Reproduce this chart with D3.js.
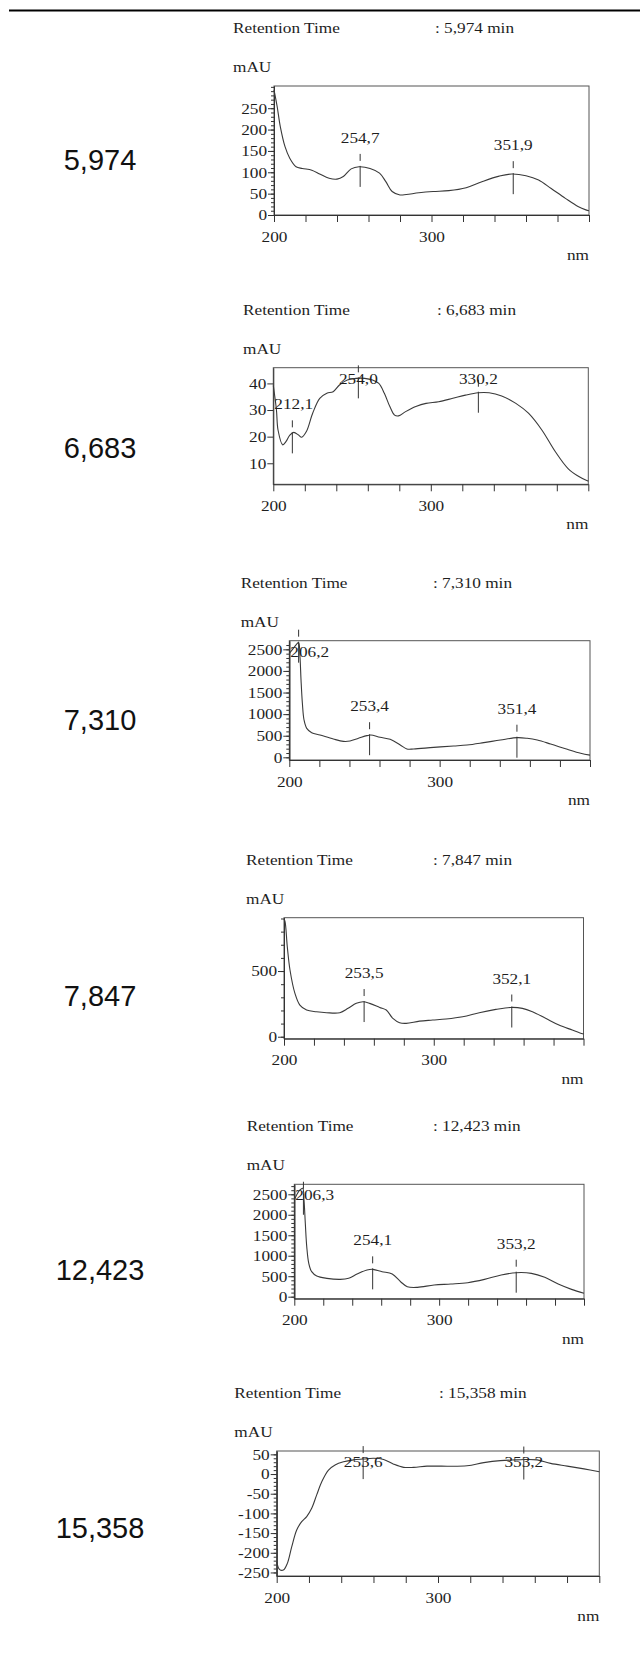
<!DOCTYPE html>
<meta charset="utf-8">

<!-- Load d3.js -->
<script src="https://d3js.org/d3.v7.min.js"></script>

<style>
  body { margin: 0; background: #fff; }
  svg text { font-family: "Liberation Serif", "Times New Roman", serif; font-size: 15px; fill: #1e1e1e; }
</style>

<div id="my_dataviz"></div>

<script>

// retention times (min), one spectrum each
var retention = ["5,974", "6,683", "7,310", "7,847", "12,423", "15,358"];

// wavelength (nm) / absorbance (mAU)
var nm5974  = [200, 202, 204, 207, 210, 214, 218, 224, 229, 235, 240, 244, 249, 254, 261, 267, 271, 275, 280, 284, 292, 301, 311, 322, 332, 343, 351, 360, 368, 376, 385, 393, 398, 400];
var mau5974 = [293, 254, 207, 160, 133, 113, 109, 105, 96, 86, 84, 90, 108, 113, 109, 98, 78, 55, 47, 48, 52, 55, 57, 64, 78, 91, 96, 92, 82, 62, 39, 20, 12, 10];

var nm6683  = [200, 202, 203, 206, 208, 210.5, 213, 216, 218, 221, 225, 229.5, 234, 238, 242, 247, 253, 258, 263, 267, 270.5, 274, 277, 279.5, 284, 290.5, 297, 305, 314, 322, 330, 337, 345, 354, 362, 370.5, 379, 387, 394, 399, 400];
var mau6683 = [39.2, 30, 22.5, 16.9, 18.1, 20.6, 21.6, 20.6, 19.8, 21.9, 28.8, 34.4, 36.3, 36.9, 39.4, 41.3, 41.9, 41.9, 41.3, 40, 36.3, 31.3, 28.1, 27.8, 29.4, 31.3, 32.5, 33.1, 34.4, 35.6, 36.5, 36.5, 35.3, 32.5, 28.8, 22.5, 14.4, 8.1, 5, 3.5, 3.3];

var nm7310  = [200, 202.7, 204.9, 206.2, 207.1, 207.8, 208.7, 209.8, 211.6, 214.9, 220.4, 229.3, 236, 240.4, 246, 251.6, 254.2, 260.4, 267.1, 273.8, 278.2, 282.7, 296, 309.3, 318.2, 329.3, 340.4, 351.6, 358.2, 364.9, 373.8, 384.9, 393.8, 400];
var mau7310 = [2407, 2523, 2623, 2654, 2330, 1790, 1250, 864, 671, 571, 517, 424, 370, 378, 440, 502, 517, 463, 417, 285, 193, 193, 231, 262, 285, 340, 401, 455, 440, 401, 309, 185, 93, 50];

var nm7847  = [200, 200.7, 202.2, 204, 207.3, 210.6, 215.1, 221.7, 228.4, 237.3, 242.8, 248.3, 252.8, 257.2, 263.9, 268.3, 272.7, 277.2, 281.6, 290.5, 299.3, 308.2, 319.3, 330.4, 341.5, 351.4, 359.2, 365.9, 374.7, 383.6, 392.5, 398.7, 400];
var mau7847 = [895, 876, 685, 508, 330, 241, 203, 190, 183, 183, 216, 254, 266, 254, 223, 203, 140, 107, 102, 119, 127, 135, 152, 183, 208, 223, 216, 190, 140, 89, 51, 25, 22];

var nm12423  = [200, 201.6, 203.9, 205.8, 206.7, 207.6, 208.6, 210, 212, 215.5, 222.5, 231.7, 237.5, 243.3, 250.2, 254.2, 260.6, 267.6, 273.4, 278, 285, 296.5, 308.1, 319.7, 331.3, 342.8, 353.2, 363.7, 372.9, 382.2, 391.4, 400];
var mau12423 = [2362, 2484, 2606, 2647, 2362, 1792, 1221, 814, 611, 505, 448, 423, 448, 554, 651, 668, 611, 554, 366, 244, 228, 285, 309, 342, 423, 529, 586, 570, 472, 309, 179, 85];

var nm15358  = [200, 201.7, 204.1, 206.6, 209.3, 212.4, 215.5, 218.6, 221.7, 224.8, 228, 232.1, 236.2, 241.4, 247.6, 253.8, 260, 266.3, 272.5, 278.7, 284.9, 293.2, 301.4, 318, 328.4, 338.7, 349.1, 354.2, 361.5, 369.8, 380.1, 390.5, 400];
var mau15358 = [-223, -242, -244, -227, -185, -142, -121, -108, -87, -53, -19, 10, 23, 31, 36, 38, 40, 37, 25, 17, 17, 20, 20, 21, 29, 34, 36, 37, 36, 27, 20, 13, 6];

// labelled maxima (nm)
var peaks5974  = [254.7, 351.9];
var peaks6683  = [212.1, 254.0, 330.2];
var peaks7310  = [206.2, 253.4, 351.4];
var peaks7847  = [253.5, 352.1];
var peaks12423 = [206.3, 254.1, 353.2];
var peaks15358 = [253.6, 353.2];

// mAU axis: extent and labelled ticks, minor tick step
var yRange5974  = [0, 302],     yTicks5974  = [0, 50, 100, 150, 200, 250],          yStep5974  = 10;
var yRange6683  = [2.1, 45.9],  yTicks6683  = [10, 20, 30, 40],                     yStep6683  = 0;
var yRange7310  = [-62, 2700],  yTicks7310  = [0, 500, 1000, 1500, 2000, 2500],     yStep7310  = 100;
var yRange7847  = [-15, 906],   yTicks7847  = [0, 500],                             yStep7847  = 100;
var yRange12423 = [-49, 2744],  yTicks12423 = [0, 500, 1000, 1500, 2000, 2500],     yStep12423 = 100;
var yRange15358 = [-259, 58.5], yTicks15358 = [-250, -200, -150, -100, -50, 0, 50], yStep15358 = 10;

// nm axis
var xTicks  = [200, 220, 240, 260, 280, 300, 320, 340, 360, 380, 400];
var xLabels = [200, 300];

var panels = [
  {nm: nm5974,  mau: mau5974,  peaks: peaks5974,  yRange: yRange5974,  yTicks: yTicks5974,  yStep: yStep5974},
  {nm: nm6683,  mau: mau6683,  peaks: peaks6683,  yRange: yRange6683,  yTicks: yTicks6683,  yStep: yStep6683},
  {nm: nm7310,  mau: mau7310,  peaks: peaks7310,  yRange: yRange7310,  yTicks: yTicks7310,  yStep: yStep7310},
  {nm: nm7847,  mau: mau7847,  peaks: peaks7847,  yRange: yRange7847,  yTicks: yTicks7847,  yStep: yStep7847},
  {nm: nm12423, mau: mau12423, peaks: peaks12423, yRange: yRange12423, yTicks: yTicks12423, yStep: yStep12423},
  {nm: nm15358, mau: mau15358, peaks: peaks15358, yRange: yRange15358, yTicks: yTicks15358, yStep: yStep15358}
];

// where each pasted spectrum sits on the page
var layout = [
  {left: 274,   right: 589,   top: 86,     bottom: 215,    textX: 233,   minX: 435, rtY: 169.5},
  {left: 273.3, right: 588.3, top: 367.7,  bottom: 484.3,  textX: 243,   minX: 437, rtY: 458},
  {left: 289.3, right: 590,   top: 640.7,  bottom: 760,    textX: 240.7, minX: 433, rtY: 730},
  {left: 284,   right: 583.5, top: 917.7,  bottom: 1038.7, textX: 246,   minX: 433, rtY: 1006},
  {left: 294.3, right: 584,   top: 1184.3, bottom: 1298.7, textX: 246.7, minX: 433, rtY: 1280},
  {left: 276.7, right: 599.3, top: 1451,   bottom: 1576,   textX: 234.3, minX: 439, rtY: 1538}
];

var SX = 1.15;   // the printout's serif text is stretched sideways
var ink = "#333";

var svg = d3.select("#my_dataviz")
  .append("svg")
    .attr("width", 640)
    .attr("height", 1653);

// rule across the top of the table
svg.append("line")
  .attr("x1", 9).attr("x2", 640)
  .attr("y1", 10.5).attr("y2", 10.5)
  .attr("stroke", "#000")
  .attr("stroke-width", 2);

function wideText(g, x, y, s, anchor) {
  return g.append("text")
    .attr("transform", "translate(" + x + "," + y + ") scale(" + SX + ",1)")
    .attr("text-anchor", anchor || "start")
    .text(s);
}

function widenTicks(axisG) {
  axisG.attr("font-family", null).attr("font-size", null).attr("color", ink);
  axisG.selectAll(".tick text").each(function() {
    var t = d3.select(this);
    t.attr("x", (+t.attr("x") || 0) / SX)
     .attr("transform", "scale(" + SX + ",1)");
  });
}

var commaFmt = function(v) { return d3.format(".1f")(v).replace(".", ","); };
var plainFmt = function(v) { return String(v); };   // 2500, -250 (no grouping, ascii minus)

panels.forEach(function(p, i) {
  var L = layout[i];
  var g = svg.append("g");

  var x = d3.scaleLinear().domain([200, 400]).range([L.left, L.right]);
  var y = d3.scaleLinear().domain(p.yRange).range([L.bottom, L.top]);

  // retention time in the left column
  g.append("text")
    .attr("x", 100)
    .attr("y", L.rtY)
    .attr("text-anchor", "middle")
    .style("font-family", "'Liberation Sans', Arial, sans-serif")
    .style("font-size", "29px")
    .style("fill", "#111")
    .text(retention[i]);

  // header texts
  wideText(g, L.textX, L.top - 53, "Retention Time");
  wideText(g, L.minX, L.top - 53, ": " + retention[i] + " min");
  wideText(g, L.textX, L.top - 14, "mAU");
  wideText(g, L.right, L.bottom + 45, "nm", "end");

  // frame
  g.append("rect")
    .attr("x", L.left).attr("y", L.top)
    .attr("width", L.right - L.left)
    .attr("height", L.bottom - L.top)
    .attr("fill", "none")
    .attr("stroke", "#555");

  // minor y ticks
  if (p.yStep) {
    var lo = Math.ceil(p.yRange[0] / p.yStep) * p.yStep;
    var minor = d3.range(lo, p.yRange[1], p.yStep);
    g.append("g")
      .attr("transform", "translate(" + L.left + ",0)")
      .attr("color", ink)
      .call(d3.axisLeft(y).tickValues(minor).tickSize(3).tickSizeOuter(0).tickFormat(""));
  }

  // y axis
  var ya = g.append("g")
    .attr("transform", "translate(" + L.left + ",0)")
    .call(d3.axisLeft(y).tickValues(p.yTicks).tickSize(6).tickSizeOuter(0).tickPadding(1)
      .tickFormat(plainFmt));
  widenTicks(ya);

  // x axis
  var xa = g.append("g")
    .attr("transform", "translate(0," + L.bottom + ")")
    .call(d3.axisBottom(x).tickValues(xTicks).tickSize(7).tickSizeOuter(0).tickPadding(9)
      .tickFormat(function(d) { return xLabels.indexOf(d) >= 0 ? d : ""; }));
  widenTicks(xa);

  // spectrum
  g.append("path")
    .datum(p.nm.map(function(d, k) { return [d, p.mau[k]]; }))
    .attr("fill", "none")
    .attr("stroke", "#3a3a3a")
    .attr("stroke-width", 1.1)
    .attr("d", d3.line()
      .x(function(d) { return x(d[0]); })
      .y(function(d) { return y(d[1]); })
      .curve(d3.curveCatmullRom));

  // peak markers and labels
  p.peaks.forEach(function(pk) {
    var k = Math.max(1, d3.bisectLeft(p.nm, pk));
    var a = p.nm[k - 1], b = p.nm[k];
    var v = p.mau[k - 1] + (p.mau[k] - p.mau[k - 1]) * (pk - a) / (b - a);
    var px = x(pk), yc = y(v);

    g.append("line")
      .attr("x1", px).attr("x2", px)
      .attr("y1", yc - 13).attr("y2", yc - 6)
      .attr("stroke", ink);
    g.append("line")
      .attr("x1", px).attr("x2", px)
      .attr("y1", yc - 1).attr("y2", yc + 20)
      .attr("stroke", ink);

    var ty = Math.max(yc - 24, L.top + 16);
    var t = wideText(g, px, ty, commaFmt(pk), "middle");
    var w = t.node().getBBox().width * SX;
    var cx = px;
    if (cx - w / 2 < L.left + 1) cx = L.left + 1 + w / 2;
    if (cx + w / 2 > L.right - 1) cx = L.right - 1 - w / 2;
    t.attr("transform", "translate(" + cx + "," + ty + ") scale(" + SX + ",1)");
  });
});

</script>
